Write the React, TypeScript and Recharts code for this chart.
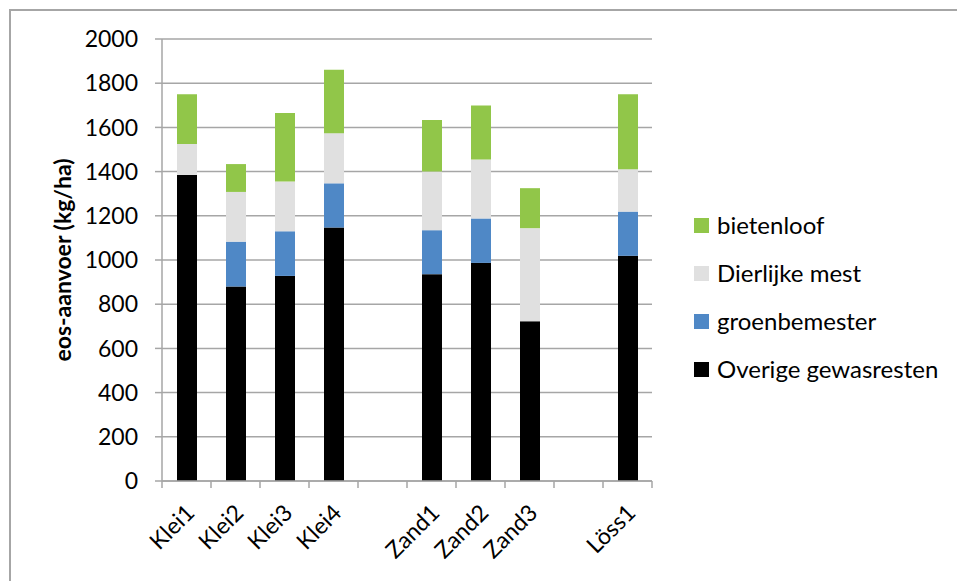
import React from 'react'
import { BarChart, Bar, XAxis, YAxis, CartesianGrid } from 'recharts'

const categories = ['Klei1', 'Klei2', 'Klei3', 'Klei4', '', 'Zand1', 'Zand2', 'Zand3', '', 'Löss1']
const overige = [1385, 880, 928, 1147, null, 936, 987, 723, null, 1019]
const groenbemester = [0, 203, 202, 200, null, 199, 201, 0, null, 200]
const dierlijkeMest = [140, 225, 225, 227, null, 265, 267, 421, null, 192]
const bietenloof = [225, 126, 310, 287, null, 234, 244, 181, null, 339]
const yTicks = [0, 200, 400, 600, 800, 1000, 1200, 1400, 1600, 1800, 2000]

const series = [
  { key: 'overige', name: 'Overige gewasresten', color: '#000000', values: overige },
  { key: 'groen', name: 'groenbemester', color: '#4f88c6', values: groenbemester },
  { key: 'dierlijk', name: 'Dierlijke mest', color: '#e0e0e0', values: dierlijkeMest },
  { key: 'bieten', name: 'bietenloof', color: '#91c649', values: bietenloof },
]

const data = categories.map((cat, i) => {
  const row: Record<string, string | number | null> = { cat }
  series.forEach((s) => { row[s.key] = s.values[i] })
  return row
})

const W = 957
const H = 581
const MARGIN = { top: 39, right: 305, left: 62, bottom: 0 }
const Y_AXIS_W = 100
const X_AXIS_H = 100
const BAND = (W - MARGIN.left - Y_AXIS_W - MARGIN.right) / categories.length
const GRID = '#a6a6a6'
const FONT = 'Lato, "Open Sans", sans-serif'

function XTick(props: any) {
  const { x, y, payload, index } = props
  const half = BAND / 2
  const tx = x + 3
  const ty = y + 27
  return (
    <g>
      <line x1={x - half} y1={y} x2={x - half} y2={y + 7} stroke={GRID} strokeWidth={1.5} />
      {index === categories.length - 1 && (
        <line x1={x + half} y1={y} x2={x + half} y2={y + 7} stroke={GRID} strokeWidth={1.5} />
      )}
      <text
        x={tx}
        y={ty}
        transform={`rotate(-45 ${tx} ${ty})`}
        textAnchor="end"
        dominantBaseline="central"
        fontSize={23}
        fill="#000"
      >
        {payload.value}
      </text>
    </g>
  )
}

function YLabel(props: any) {
  const { x, y, height } = props.viewBox
  const cx = x
  const cy = y + height / 2
  return (
    <text
      x={cx}
      y={cy}
      transform={`rotate(-90 ${cx} ${cy})`}
      textAnchor="middle"
      dominantBaseline="central"
      fontSize={23}
      fontWeight="bold"
      fill="#000"
    >
      eos-aanvoer (kg/ha)
    </text>
  )
}

export default function App() {
  const legendItems = [...series].reverse()
  return (
    <div
      style={{
        position: 'absolute', left: 0, top: 0, width: W, height: H,
        overflow: 'hidden', background: '#fff', fontFamily: FONT,
      }}
    >
      {/* chart frame, cut off at the right and bottom */}
      <div
        style={{
          position: 'absolute', left: 9, top: 9, width: 1200, height: 1000,
          border: `2px solid ${GRID}`,
        }}
      />
      <BarChart width={W} height={H} data={data} margin={MARGIN} barSize={20}>
        <CartesianGrid vertical={false} stroke={GRID} strokeWidth={1.5} />
        <XAxis
          dataKey="cat"
          height={X_AXIS_H}
          interval={0}
          tickSize={0}
          tickMargin={0}
          tickLine={false}
          axisLine={{ stroke: GRID, strokeWidth: 1.5 }}
          tick={<XTick />}
        />
        <YAxis
          width={Y_AXIS_W}
          domain={[0, 2000]}
          ticks={yTicks}
          interval={0}
          tickSize={7}
          tickMargin={17}
          tick={{ fill: '#000', fontSize: 23 }}
          tickLine={{ stroke: GRID, strokeWidth: 1.5 }}
          axisLine={{ stroke: GRID, strokeWidth: 1.5 }}
          label={<YLabel />}
        />
        {series.map((s) => (
          <Bar key={s.key} dataKey={s.key} name={s.name} stackId="a" fill={s.color} isAnimationActive={false} />
        ))}
      </BarChart>

      <div style={{ position: 'absolute', left: 694, top: 201 }}>
        {legendItems.map((s) => (
          <div key={s.key} style={{ display: 'flex', alignItems: 'center', height: 48 }}>
            <div style={{ width: 15, height: 15, background: s.color, marginRight: 8 }} />
            <span style={{ fontSize: 24, color: '#000', lineHeight: '48px' }}>{s.name}</span>
          </div>
        ))}
      </div>
    </div>
  )
}
